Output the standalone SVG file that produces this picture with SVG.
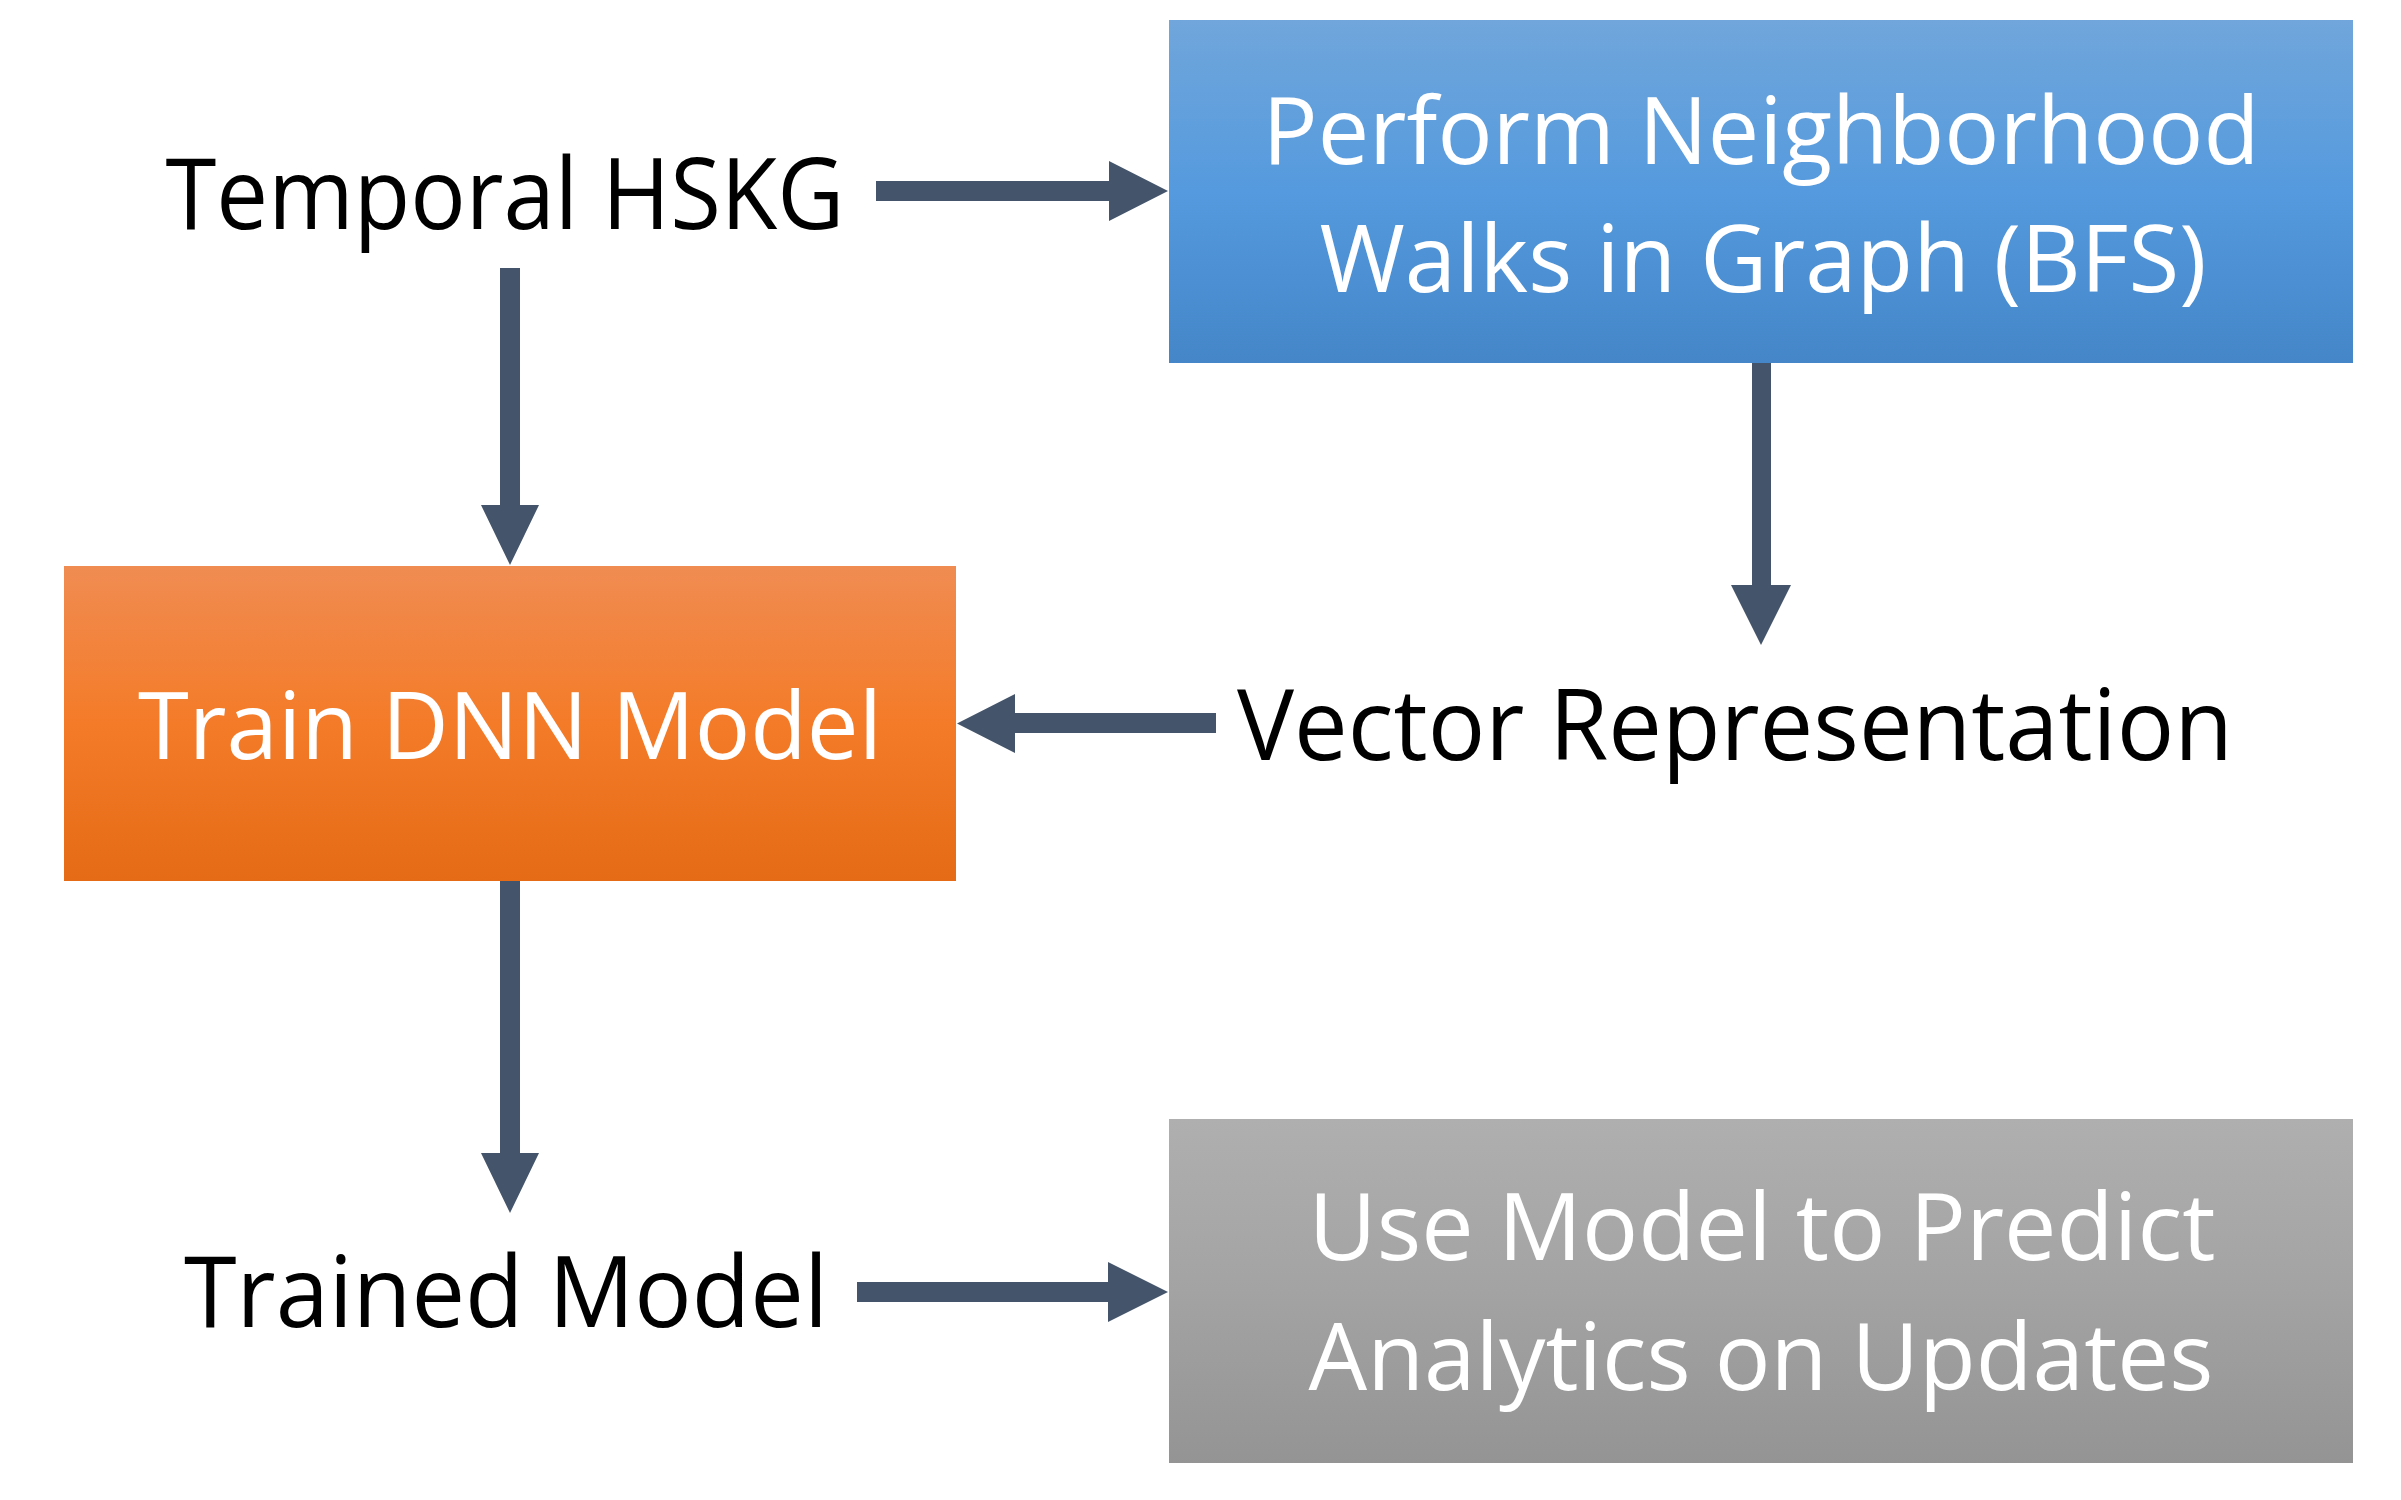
<svg xmlns="http://www.w3.org/2000/svg" width="2401" height="1500" viewBox="0 0 2401 1500">
  <defs>
    <linearGradient id="gBlue" x1="0" y1="0" x2="0" y2="1">
      <stop offset="0" stop-color="#70a6db"/>
      <stop offset="0.5" stop-color="#559ade"/>
      <stop offset="1" stop-color="#4486c8"/>
    </linearGradient>
    <linearGradient id="gOrange" x1="0" y1="0" x2="0" y2="1">
      <stop offset="0" stop-color="#f08c52"/>
      <stop offset="0.5" stop-color="#f47b28"/>
      <stop offset="1" stop-color="#e56b16"/>
    </linearGradient>
    <linearGradient id="gGray" x1="0" y1="0" x2="0" y2="1">
      <stop offset="0" stop-color="#afafaf"/>
      <stop offset="0.5" stop-color="#a3a3a3"/>
      <stop offset="1" stop-color="#949494"/>
    </linearGradient>
  </defs>
  <style>
    .label { font-family: "Open Sans", "Noto Sans", "Liberation Sans", sans-serif; font-size: 98px; fill: #000000; text-anchor: middle; }
    .boxlabel { font-family: "Open Sans", "Noto Sans", "Liberation Sans", sans-serif; font-size: 93px; fill: #ffffff; text-anchor: middle; }
    .arrow { fill: #44546a; stroke: none; }
  </style>

  <rect x="0" y="0" width="2401" height="1500" fill="#ffffff"/>

  <!-- plain text nodes -->
  <g id="temporal-hskg">
    <text class="label" x="505" y="229" textLength="679" lengthAdjust="spacingAndGlyphs">Temporal HSKG</text>
  </g>
  <g id="vector-representation">
    <text class="label" x="1735" y="760" textLength="996" lengthAdjust="spacingAndGlyphs">Vector Representation</text>
  </g>
  <g id="trained-model">
    <text class="label" x="506" y="1327" textLength="644" lengthAdjust="spacingAndGlyphs">Trained Model</text>
  </g>

  <!-- process boxes -->
  <g id="neighborhood-walks">
    <rect x="1169" y="20" width="1184" height="343" fill="url(#gBlue)"/>
    <text class="boxlabel" x="1761" y="164" textLength="997" lengthAdjust="spacingAndGlyphs">Perform Neighborhood</text>
    <text class="boxlabel" x="1763" y="292" textLength="887" lengthAdjust="spacingAndGlyphs">Walks in Graph (BFS)</text>
  </g>
  <g id="train-dnn">
    <rect x="64" y="566" width="892" height="315" fill="url(#gOrange)"/>
    <text class="boxlabel" x="510" y="759" textLength="744" lengthAdjust="spacingAndGlyphs">Train DNN Model</text>
  </g>
  <g id="predict-analytics">
    <rect x="1169" y="1119" width="1184" height="344" fill="url(#gGray)"/>
    <text class="boxlabel" x="1762" y="1260" textLength="907" lengthAdjust="spacingAndGlyphs">Use Model to Predict</text>
    <text class="boxlabel" x="1761" y="1390" textLength="905" lengthAdjust="spacingAndGlyphs">Analytics on Updates</text>
  </g>

  <!-- block arrows -->
  <g id="connectors">
    <!-- Temporal HSKG -> Perform Neighborhood Walks -->
    <path class="arrow" d="M876,181 H1109 V161 L1168,191 L1109,221 V201 H876 Z"/>
    <!-- Temporal HSKG -> Train DNN Model -->
    <path class="arrow" d="M500,268 V505 H481 L510,565 L539,505 H520 V268 Z"/>
    <!-- Perform Neighborhood Walks -> Vector Representation -->
    <path class="arrow" d="M1752,363 V585 H1731 L1761,645 L1791,585 H1771 V363 Z"/>
    <!-- Vector Representation -> Train DNN Model -->
    <path class="arrow" d="M1216,713 H1015 V694 L957,723.5 L1015,753 V733 H1216 Z"/>
    <!-- Train DNN Model -> Trained Model -->
    <path class="arrow" d="M500,881 V1153 H481 L510,1213 L539,1153 H520 V881 Z"/>
    <!-- Trained Model -> Use Model to Predict -->
    <path class="arrow" d="M857,1282 H1108 V1262 L1168,1292 L1108,1322 V1302 H857 Z"/>
  </g>
</svg>
